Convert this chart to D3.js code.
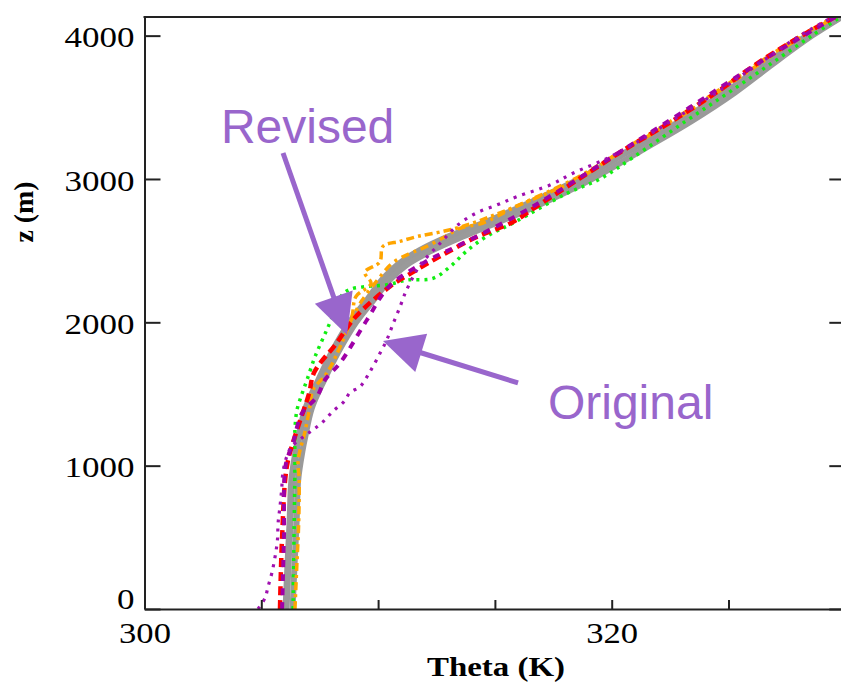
<!DOCTYPE html>
<html><head><meta charset="utf-8">
<script src="https://cdn.jsdelivr.net/npm/d3@7"></script>
<style>html,body{margin:0;padding:0;background:#fff;} svg{display:block;}</style>
</head><body>
<svg id="chart" width="841" height="683"></svg>
<script>
// ---------- data ----------
const xTicks = [300, 305, 310, 315, 320, 325, 330];
const xTickLabels = ["300", "", "", "", "320", "", ""];
const yTicks = [0, 1000, 2000, 3000, 4000];
const yTickLabels = ["0", "1000", "2000", "3000", "4000"];

// [theta (K), z (m)]
const gray1 = [[306.06,0],[306.14,300],[306.23,600],[306.31,900],[306.49,1100],[306.61,1200],[306.91,1400],[307.47,1600],[308.07,1800],[308.80,2000],[309.52,2150],[310.21,2300],[310.85,2400],[311.79,2500],[313.08,2600],[314.66,2700],[316.07,2800],[318.64,3000],[320.78,3200],[322.92,3400],[324.85,3600],[326.56,3800],[328.40,4000],[329.99,4150]];
const gray2 = [[306.34,0],[306.42,300],[306.51,600],[306.58,900],[306.76,1100],[306.88,1200],[307.16,1400],[307.70,1600],[308.32,1800],[309.06,2000],[309.78,2150],[310.52,2300],[311.22,2400],[312.30,2500],[313.66,2600],[315.16,2700],[316.62,2800],[319.15,3000],[321.28,3200],[323.38,3400],[325.25,3600],[326.88,3800],[328.58,4000],[330.05,4150]];
const red = [[305.80,0],[305.89,500],[306.10,1000],[306.53,1250],[307.04,1500],[307.26,1650],[308.20,1850],[309.05,2040],[310.51,2250],[311.49,2350],[312.65,2460],[314.15,2590],[315.77,2700],[316.71,2800],[318.60,3000],[320.50,3200],[322.55,3400],[324.45,3600],[326.17,3800],[328.14,4000],[329.77,4150]];
const purple = [[305.89,0],[305.97,500],[306.04,1000],[306.36,1160],[306.74,1365],[307.38,1480],[307.73,1600],[308.37,1716],[309.52,2016],[310.47,2250],[312.00,2420],[313.50,2540],[315.77,2730],[317.57,2900],[319.50,3100],[321.43,3300],[323.35,3500],[325.23,3700],[327.20,3900],[329.77,4150]];
const orange1 = [[306.44,0],[306.52,300],[306.60,600],[306.62,900],[306.58,1040],[306.87,1237],[307.08,1411],[307.21,1528],[307.81,1646],[308.50,1877],[308.88,2040],[309.05,2180],[309.70,2270],[309.43,2350],[310.07,2420],[310.21,2530],[310.94,2565],[311.71,2600],[312.65,2630],[313.64,2670],[315.00,2750],[316.50,2850],[318.55,3000],[320.45,3200],[322.50,3400],[324.40,3600],[326.20,3800],[328.10,4000],[329.75,4150]];
const orange2 = [[308.80,2000],[309.30,2150],[310.00,2300],[310.60,2412],[311.38,2482],[311.92,2517],[312.90,2600],[313.50,2656],[314.49,2693],[315.80,2800],[318.40,3000],[320.50,3200],[322.60,3400],[324.50,3600],[326.30,3800],[328.20,4000],[329.80,4150]];
const green = [[306.36,0],[306.40,500],[306.44,1000],[306.44,1250],[306.53,1390],[306.74,1500],[306.96,1600],[307.30,1760],[307.81,1950],[308.24,2110],[308.45,2190],[308.80,2230],[309.52,2250],[310.38,2262],[311.24,2295],[312.35,2307],[313.08,2388],[313.81,2500],[314.66,2600],[315.86,2700],[318.09,2900],[319.50,3000],[320.91,3150],[323.14,3400],[324.98,3600],[326.78,3800],[328.57,4000],[329.99,4150]];
const original = [[304.86,0],[305.16,77],[305.29,156],[305.45,250],[305.59,365],[305.69,480],[305.72,600],[305.80,715],[305.87,830],[305.93,958],[306.09,1063],[306.30,1133],[306.79,1200],[307.21,1250],[307.60,1300],[308.07,1380],[308.54,1447],[308.80,1510],[309.22,1550],[309.61,1644],[310.08,1784],[310.37,1877],[310.65,1993],[310.94,2109],[311.15,2200],[311.32,2260],[311.80,2400],[312.65,2550],[313.42,2680],[314.19,2761],[315.09,2819],[315.95,2877],[317.36,2958],[318.34,3040],[319.80,3144],[321.00,3250],[322.50,3400],[324.46,3600],[326.26,3800],[328.06,4000],[329.69,4150]];

// annotations: label, text anchor (theta,z), arrow start, arrow tip
const annLabels = ["Revised", "Original"];
const annText = [[303.27, 3251], [317.27, 1325]];
const annFrom = [[305.93, 3181], [315.99, 1577]];
const annTo = [[308.67, 1912], [310.21, 1870]];

// ---------- styles ----------
const series = [
  {d: gray1, color: "#999999", w: 7, dash: null},
  {d: gray2, color: "#9a9a9a", w: 6, dash: null},
  {d: green, color: "#11ee11", w: 3.5, dash: "3,5"},
  {d: orange1, color: "#ffa500", w: 3.5, dash: "8,4,3,4"},
  {d: orange2, color: "#ffa500", w: 3.5, dash: "8,5,3,5"},
  {d: red, color: "#ff0000", w: 4.5, dash: "9,5"},
  {d: purple, color: "#a000a8", w: 4, dash: "7,7"},
  {d: original, color: "#a010b0", w: 3.2, dash: "3,6"}
];

const svg = d3.select("#chart");
const L = 144.5, R = 845.3, T = 17, B = 609;
const x = d3.scaleLinear().domain([300, 330]).range([L, R]);
const y = d3.scaleLinear().domain([0, 4130]).range([B, T]);

svg.append("defs").append("clipPath").attr("id", "clip")
  .append("rect").attr("x", L).attr("y", T).attr("width", R - L).attr("height", B - T);

const line = d3.line().x(d => x(d[0])).y(d => y(d[1])).curve(d3.curveCatmullRom.alpha(0.5));
const g = svg.append("g").attr("clip-path", "url(#clip)");
series.forEach(s => {
  g.append("path").attr("d", line(s.d)).attr("fill", "none")
    .attr("stroke", s.color).attr("stroke-width", s.w)
    .attr("stroke-dasharray", s.dash).attr("stroke-linejoin", "round");
});

// ---------- axes ----------
const axisColor = "#222";
const fontSerif = "'Liberation Serif','Times New Roman',serif";

const xAxis = d3.axisBottom(x).tickValues(xTicks).tickSizeInner(-9).tickSizeOuter(0).tickPadding(13)
  .tickFormat((d, i) => xTickLabels[i]);
const gx = svg.append("g").attr("transform", `translate(0,${B})`).call(xAxis);

const yAxis = d3.axisLeft(y).tickValues(yTicks).tickSizeInner(-16).tickSizeOuter(0).tickPadding(10)
  .tickFormat((d, i) => yTickLabels[i]);
const gy = svg.append("g").attr("transform", `translate(${L},0)`).call(yAxis);

const yAxisR = d3.axisRight(y).tickValues(yTicks).tickSizeInner(-16).tickSizeOuter(0).tickFormat("");
const gyr = svg.append("g").attr("transform", `translate(${R},0)`).call(yAxisR);

[gx, gy, gyr].forEach(a => {
  a.selectAll(".domain").attr("stroke", axisColor).attr("stroke-width", 2);
  a.selectAll(".tick line").attr("stroke", axisColor).attr("stroke-width", 2);
  a.selectAll("text").attr("font-family", fontSerif).attr("font-size", 29).attr("fill", "#000");
});
gx.selectAll("text").each(function() {
  const t = d3.select(this).text();
  if (t.length) d3.select(this).attr("textLength", t.length * 17.3).attr("lengthAdjust", "spacingAndGlyphs");
});
gy.selectAll("text").each(function(d) {
  const t = d3.select(this).text();
  d3.select(this).attr("textLength", t.length * 17.5).attr("lengthAdjust", "spacingAndGlyphs")
    .attr("dy", d === 0 ? "-0.03em" : "0.39em");
});
// top frame line
svg.append("line").attr("x1", L - 1).attr("x2", R).attr("y1", T).attr("y2", T)
  .attr("stroke", axisColor).attr("stroke-width", 2);

// axis titles
svg.append("text").attr("x", 496).attr("y", 676).attr("text-anchor", "middle")
  .attr("font-family", fontSerif).attr("font-weight", "bold").attr("font-size", 28)
  .attr("textLength", 138).attr("lengthAdjust", "spacingAndGlyphs").text("Theta (K)");
svg.append("text").attr("transform", "translate(23,212) rotate(-90)").attr("text-anchor", "middle")
  .attr("dominant-baseline", "central")
  .attr("font-family", fontSerif).attr("font-weight", "bold").attr("font-size", 28)
  .attr("textLength", 61).attr("lengthAdjust", "spacingAndGlyphs").text("z (m)");

// ---------- annotations ----------
const annColor = "#9966cc";
annLabels.forEach((lab, i) => {
  svg.append("text").attr("x", x(annText[i][0])).attr("y", y(annText[i][1]))
    .attr("font-family", "'Liberation Sans',Arial,sans-serif").attr("font-size", 48)
    .attr("fill", annColor).text(lab);
  const x0 = x(annFrom[i][0]), y0 = y(annFrom[i][1]);
  const x1 = x(annTo[i][0]), y1 = y(annTo[i][1]);
  const len = Math.hypot(x1 - x0, y1 - y0);
  const ux = (x1 - x0) / len, uy = (y1 - y0) / len;
  const headL = 40, headW = 20;
  const bx = x1 - ux * headL, by = y1 - uy * headL;
  svg.append("line").attr("x1", x0).attr("y1", y0).attr("x2", bx + ux * 2).attr("y2", by + uy * 2)
    .attr("stroke", annColor).attr("stroke-width", 5);
  svg.append("path")
    .attr("d", `M${x1},${y1}L${bx - uy * headW},${by + ux * headW}L${bx + uy * headW},${by - ux * headW}Z`)
    .attr("fill", annColor);
});
</script>
</body></html>
